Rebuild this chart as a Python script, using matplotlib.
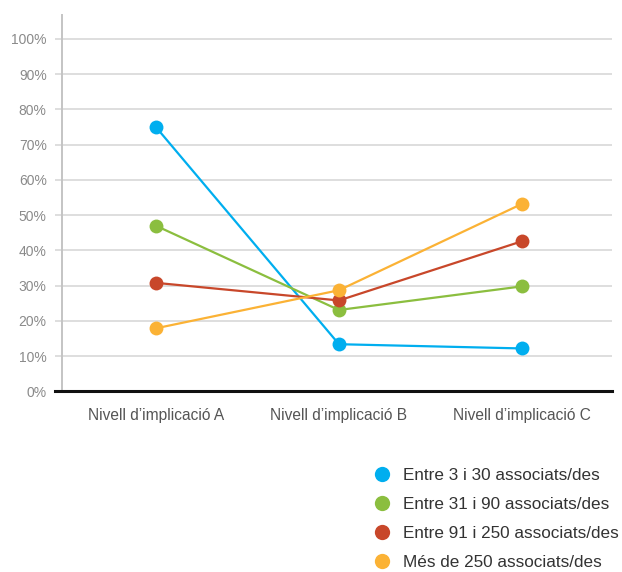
import numpy as np
import matplotlib
matplotlib.use('Agg')
import matplotlib.pyplot as plt
from matplotlib.lines import Line2D

plt.rcParams['font.family'] = ['Liberation Sans', 'DejaVu Sans']

categories = ["Nivell d\u2019implicaci\u00f3 A", "Nivell d\u2019implicaci\u00f3 B", "Nivell d\u2019implicaci\u00f3 C"]
series_names = ["Entre 3 i 30 associats/des", "Entre 31 i 90 associats/des",
                "Entre 91 i 250 associats/des", "M\u00e9s de 250 associats/des"]
blue_vals = [75.0, 13.4, 12.2]
green_vals = [47.0, 23.1, 29.8]
red_vals = [30.8, 25.8, 42.6]
orange_vals = [17.9, 28.7, 53.2]
yticks = [0, 10, 20, 30, 40, 50, 60, 70, 80, 90, 100]

colors = ['#00AEEF', '#8BBE3F', '#C8472A', '#FBB235']
all_vals = [blue_vals, green_vals, red_vals, orange_vals]

fig = plt.figure(figsize=(6.22, 5.72), dpi=100)
ax = fig.add_axes([0.0997, 0.3156, 0.884, 0.658])

x = np.arange(len(categories))
for vals, col, name in zip(all_vals, colors, series_names):
    ax.plot(x, vals, color=col, lw=1.6, marker='o', markersize=10,
            markeredgewidth=0, label=name, zorder=3, solid_capstyle='round')

ax.set_xlim(-0.512, 2.49)
ax.set_ylim(0, 106.7)
ax.set_yticks(yticks)
ax.set_yticklabels(['%d%%' % t for t in yticks])
ax.set_xticks(x)
ax.set_xticklabels(categories)

for t in yticks[1:]:
    ax.axhline(t, color='#DEDEDE', lw=1.4, zorder=1)
ax.axhline(0, xmin=-0.013, xmax=1, color='#111111', lw=2.2, zorder=4, clip_on=False)

for s in ['top', 'right', 'bottom']:
    ax.spines[s].set_visible(False)
ax.spines['left'].set_color('#C4C4C4')
ax.spines['left'].set_linewidth(1.4)

ax.tick_params(axis='y', length=5, width=1.4, color='#DEDEDE', pad=6,
               labelsize=10, labelcolor='#8A8A8A')
ax.tick_params(axis='x', length=0, pad=12, labelsize=11.2, labelcolor='#555555')

handles = [Line2D([], [], color=c, marker='o', markersize=11, markeredgewidth=0, lw=0)
           for c in colors]
fig.legend(handles, series_names, loc='upper left', bbox_to_anchor=(0.593, 0.194),
           frameon=False, fontsize=12.3, labelcolor='#333333', handlelength=0.75,
           handletextpad=0.85, labelspacing=0.82, borderaxespad=0)

fig.savefig('out.png', dpi=100)
